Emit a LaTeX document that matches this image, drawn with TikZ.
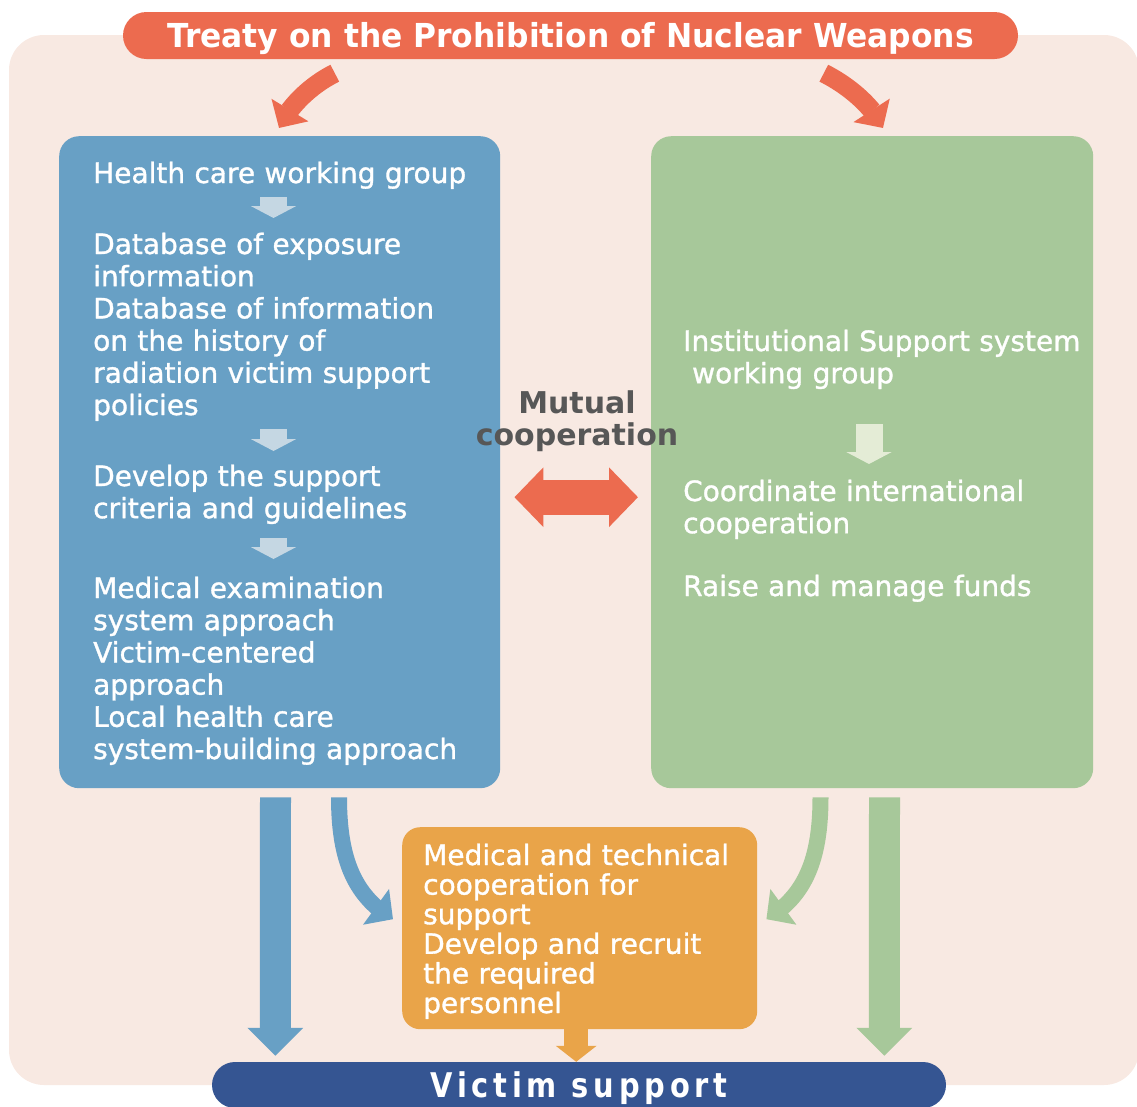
\documentclass[tikz,border=0pt]{standalone}
\usepackage{fontspec}
\setmainfont{DejaVu Sans}
\newfontfamily\bodyfont{DejaVu Sans}[FakeBold=1.2]
\newfontfamily\titlefont{DejaVu Sans}[FakeStretch=0.95]
\newfontfamily\pillfont{DejaVu Sans}[FakeStretch=0.85,LetterSpace=14]
\usepackage{tikz}
\usetikzlibrary{arrows.meta,bending,positioning}
\definecolor{bg}{HTML}{F8E9E2}
\definecolor{treaty}{HTML}{EC6B4F}
\definecolor{health}{HTML}{68A0C5}
\definecolor{inst}{HTML}{A7C89A}
\definecolor{coop}{HTML}{E9A449}
\definecolor{victim}{HTML}{355592}
\definecolor{healthstep}{HTML}{C5D7E3}
\definecolor{inststep}{HTML}{E4ECD6}
\definecolor{mutual}{HTML}{575757}
\tikzset{
	panel/.style={anchor=north west,inner sep=0pt,rounded corners=20pt},
	body/.style={anchor=base west,inner sep=0pt,text=white,text width=400pt,align=left,
		font=\bodyfont\fontsize{28}{32.2}\selectfont},
	pill/.style={inner sep=0pt,text=white,text depth=0pt},
	bigarrow/.style={line width=31pt,-{Triangle[width=54pt,length=28pt]}},
	bendarrow/.style={line width=16pt,-{Triangle[width=43pt,length=21pt]}},
	steparrow/.style={line width=27pt,-{Triangle[width=45pt,length=12pt]}},
	treatyarrow/.style={treaty,line width=19pt,-{Triangle[width=42pt,length=21pt]}},
	mutualarrow/.style={treaty,line width=35pt,{Triangle[width=58pt,length=29pt]}-{Triangle[width=58pt,length=29pt]}}
}

\begin{document}
\begin{tikzpicture}[x=1pt,y=-1pt]
	\useasboundingbox (0,0) rectangle (1137,1106);
	\fill[bg,rounded corners=35pt] (9,35) rectangle (1139,1085);

	% title and the two working groups
	\node[pill,fill=treaty,rounded corners=23.5pt,minimum width=895pt,minimum height=47pt,text height=24pt,
		font=\titlefont\fontsize{33}{33}\bfseries\selectfont] (treaty) at (570.5,35.5)
		{Treaty on the Prohibition of Nuclear Weapons};
	\node[panel,fill=health,minimum width=441pt,minimum height=652pt] (health) at (59,136) {};
	\node[panel,fill=inst,minimum width=442pt,minimum height=652pt] (inst) at (651,136) {};
	\node[panel,fill=coop,minimum width=355pt,minimum height=202pt,rounded corners=18pt] (coop) at (402,827) {};
	\node[pill,fill=victim,rounded corners=23pt,minimum width=734pt,minimum height=46pt,text height=25pt,
		font=\pillfont\fontsize{34}{34}\bfseries\selectfont] (victim) at (579,1085) {Victim support};

	% health care side
	\node[body] (h1) at (93,183) {Health care working group};
	\node[body] (h2) at (93,254) {Database of exposure\\information\\Database of information\\on the history of\\radiation victim support\\policies};
	\node[body] (h3) at (93,486) {Develop the support\\criteria and guidelines};
	\node[body] (h4) at (93,598) {Medical examination\\system approach\\Victim-centered\\approach\\Local health care\\system-building approach};

	% institutional side
	\node[body] (g1) at (683,351) {Institutional Support system\\\hspace*{9pt}working group};
	\node[body] (g2) at (683,501) {Coordinate international\\cooperation};
	\node[body] (g3) at (683,596) {Raise and manage funds};

	\node[body,font=\bodyfont\fontsize{28}{29.6}\selectfont] (c1) at (423,865) {Medical and technical\\cooperation for\\support\\Develop and recruit\\the required\\personnel};

	\node[anchor=base,align=center,inner sep=0pt,text=mutual,font=\fontsize{30}{32}\bfseries\selectfont] (mutual) at (577,445) {Mutual\\cooperation};

	% arrows
	\draw[treatyarrow] ([xshift=212pt,yshift=-14pt]treaty.south west) .. controls +(-24,12) and +(10,-22) .. ([xshift=220pt,yshift=8pt]health.north west);
	\draw[treatyarrow] ([xshift=701pt,yshift=-14pt]treaty.south west) .. controls +(24,12) and +(-10,-22) .. ([xshift=232pt,yshift=8pt]inst.north west);

	\draw[steparrow,healthstep] ([xshift=180.5pt,yshift=-14pt]h1.base west) -- ([xshift=180.5pt,yshift=36pt]h2.base west);
	\draw[steparrow,healthstep] ([xshift=180.5pt,yshift=57pt]h3.base west) -- ([xshift=180.5pt,yshift=35pt]h3.base west);
	\draw[steparrow,healthstep] ([xshift=180.5pt,yshift=60pt]h4.base west) -- ([xshift=180.5pt,yshift=39pt]h4.base west);
	\draw[steparrow,inststep] ([xshift=186pt,yshift=77pt]g2.base west) -- ([xshift=186pt,yshift=37pt]g2.base west);

	\draw[mutualarrow] ([xshift=14pt,yshift=-35pt]health.east) -- ([xshift=-13pt,yshift=-35pt]inst.west);

	\draw[bigarrow,health] ([xshift=216.5pt,yshift=-9pt]health.south west) -- ([xshift=63.5pt,yshift=6pt]victim.north west);
	\draw[bigarrow,inst] ([xshift=233.5pt,yshift=-9pt]inst.south west) -- ([xshift=672.5pt,yshift=6pt]victim.north west);
	\draw[bendarrow,health] ([xshift=280pt,yshift=-9pt]health.south west) .. controls +(0,63) and +(-38,-23) .. ([xshift=-9pt,yshift=9pt]coop.west);
	\draw[bendarrow,inst] ([xshift=169.5pt,yshift=-9pt]inst.south west) .. controls +(0,63) and +(38,-23) .. ([xshift=9pt,yshift=9pt]coop.east);
	\draw[coop,line width=24pt,-{Triangle[width=40pt,length=16pt]}] ([xshift=-3.5pt]coop.south) -- ([xshift=-3.5pt]coop.south |- victim.north);
\end{tikzpicture}
\end{document}
